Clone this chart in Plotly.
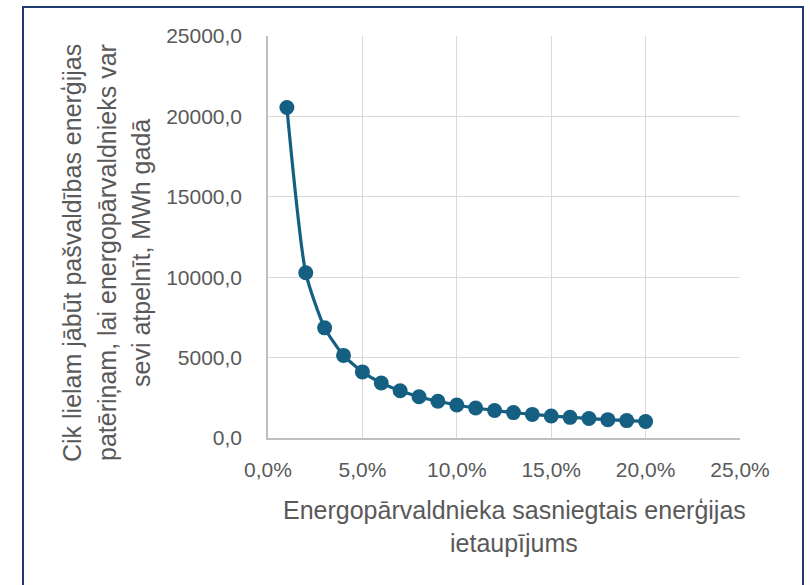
import plotly.graph_objects as go

savings = [0.01, 0.02, 0.03, 0.04, 0.05, 0.06, 0.07, 0.08, 0.09, 0.10,
           0.11, 0.12, 0.13, 0.14, 0.15, 0.16, 0.17, 0.18, 0.19, 0.20]
consumption = [20550, 10275, 6850, 5138, 4110, 3425, 2936, 2569, 2283, 2055,
               1868, 1713, 1581, 1468, 1370, 1284, 1209, 1142, 1082, 1028]

x_title_1 = "Energopārvaldnieka sasniegtais enerģijas"
x_title_2 = "ietaupījums"
y_title_lines = ["Cik lielam jābūt pašvaldības enerģijas",
                 "patēriņam, lai energopārvaldnieks var",
                 "sevi atpelnīt, MWh gadā"]

COLOR = "#156082"
GREY = "#595959"
FONT = "Liberation Sans, Arial, sans-serif"
TICK_SIZE = 21
TITLE_SIZE = 25

fig = go.Figure()
fig.add_trace(go.Scatter(
    x=savings, y=consumption, mode="lines+markers",
    line=dict(color=COLOR, width=3.2, shape="spline", smoothing=0.6),
    marker=dict(color=COLOR, size=15),
    showlegend=False, cliponaxis=False,
))

L, R, T, B = 268, 70, 36, 147
W, H = 810, 585
pw = W - L - R
ph = H - T - B

def px(x):
    return (x - L) / pw

def py(y):
    return (H - B - y) / ph

fig.update_layout(
    width=W, height=H,
    margin=dict(l=L, r=R, t=T, b=B),
    paper_bgcolor="white", plot_bgcolor="white",
    separators=", ",
    font=dict(family=FONT, color=GREY, size=TICK_SIZE),
    xaxis=dict(range=[0, 0.25], dtick=0.05, tickformat=".1%",
               showgrid=True, gridcolor="#D9D9D9", gridwidth=1,
               showline=True, linecolor="#BFBFBF", linewidth=1.5,
               zeroline=False, ticks="", ticklabelstandoff=12,
               tickfont=dict(size=TICK_SIZE, color=GREY, family=FONT)),
    yaxis=dict(range=[0, 25000], dtick=5000, tickformat=".1f",
               showgrid=True, gridcolor="#D9D9D9", gridwidth=1,
               showline=True, linecolor="#BFBFBF", linewidth=1.5,
               zeroline=False, ticks="", ticklabelstandoff=20,
               tickfont=dict(size=TICK_SIZE, color=GREY, family=FONT)),
)

# x axis title (two lines)
fig.add_annotation(text=x_title_1, xref="paper", yref="paper",
                   x=px(514), y=py(510), showarrow=False,
                   font=dict(size=TITLE_SIZE, color=GREY, family=FONT),
                   xanchor="center", yanchor="middle")
fig.add_annotation(text=x_title_2, xref="paper", yref="paper",
                   x=px(514), y=py(543), showarrow=False,
                   font=dict(size=TITLE_SIZE, color=GREY, family=FONT),
                   xanchor="center", yanchor="middle")

# y axis title (three rotated lines)
for xc, line in zip([72, 107, 141], y_title_lines):
    fig.add_annotation(text=line, xref="paper", yref="paper",
                       x=px(xc), y=py(253), showarrow=False, textangle=-90,
                       font=dict(size=TITLE_SIZE, color=GREY, family=FONT),
                       xanchor="center", yanchor="middle")

# chart border
fig.add_shape(type="rect", xref="paper", yref="paper",
              x0=px(23), x1=px(803), y0=py(600), y1=py(7),
              line=dict(color="#1F3A6E", width=2), fillcolor="rgba(0,0,0,0)",
              layer="below")

fig.write_html("out.html")
